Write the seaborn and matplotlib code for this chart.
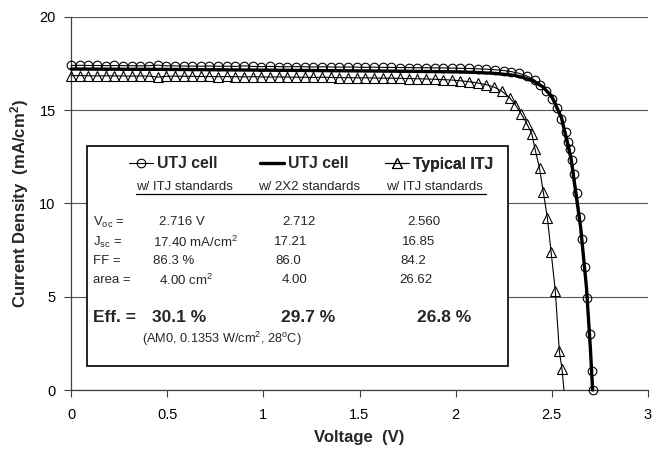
import matplotlib
matplotlib.use("Agg")
import matplotlib.pyplot as plt
import seaborn as sns
from matplotlib.patches import Rectangle
from matplotlib.lines import Line2D

# ---------------- data ----------------
v_utj = [0.000, 0.045, 0.090, 0.135, 0.180, 0.225, 0.270, 0.315, 0.360, 0.405,
         0.450, 0.495, 0.540, 0.585, 0.630, 0.675, 0.720, 0.765, 0.810, 0.855,
         0.900, 0.945, 0.990, 1.035, 1.080, 1.125, 1.170, 1.215, 1.260, 1.305,
         1.350, 1.395, 1.440, 1.485, 1.530, 1.575, 1.620, 1.665, 1.710, 1.755,
         1.800, 1.845, 1.890, 1.935, 1.980, 2.025, 2.070, 2.115, 2.160, 2.205,
         2.250, 2.290, 2.330, 2.370, 2.410, 2.440, 2.470, 2.500, 2.525, 2.550,
         2.572, 2.586, 2.595, 2.605, 2.615, 2.629, 2.647, 2.657, 2.672, 2.685,
         2.698, 2.709, 2.716]
j_utj = [17.40, 17.41, 17.40, 17.40, 17.39, 17.40, 17.39, 17.39, 17.38, 17.39,
         17.42, 17.38, 17.38, 17.37, 17.37, 17.36, 17.37, 17.36, 17.36, 17.35,
         17.38, 17.35, 17.34, 17.35, 17.34, 17.33, 17.34, 17.33, 17.32, 17.33,
         17.32, 17.31, 17.32, 17.31, 17.30, 17.31, 17.30, 17.30, 17.29, 17.29,
         17.28, 17.28, 17.27, 17.27, 17.26, 17.25, 17.24, 17.22, 17.20, 17.17,
         17.13, 17.07, 16.98, 16.84, 16.62, 16.38, 16.04, 15.60, 15.12, 14.52,
         13.85, 13.30, 12.90, 12.33, 11.60, 10.55, 9.30, 8.10, 6.60, 4.95,
         3.00, 1.00, 0.00]

v_2x2 = [0.00, 0.25, 0.50, 0.75, 1.00, 1.25, 1.50, 1.75, 2.00, 2.10,
         2.20, 2.30, 2.35, 2.40, 2.45, 2.50, 2.55, 2.60, 2.65, 2.68,
         2.70, 2.712]
j_2x2 = [17.21, 17.20, 17.19, 17.17, 17.15, 17.13, 17.11, 17.09, 17.06, 17.03,
         16.98, 16.88, 16.76, 16.58, 16.28, 15.75, 14.60, 12.40, 8.70, 5.50,
         2.30, 0.00]

v_itj = [0.000, 0.045, 0.090, 0.135, 0.180, 0.225, 0.270, 0.315, 0.360, 0.405,
         0.450, 0.495, 0.540, 0.585, 0.630, 0.675, 0.720, 0.765, 0.810, 0.855,
         0.900, 0.945, 0.990, 1.035, 1.080, 1.125, 1.170, 1.215, 1.260, 1.305,
         1.350, 1.395, 1.440, 1.485, 1.530, 1.575, 1.620, 1.665, 1.710, 1.755,
         1.800, 1.845, 1.890, 1.935, 1.980, 2.025, 2.070, 2.115, 2.160, 2.200,
         2.240, 2.280, 2.310, 2.340, 2.370, 2.396, 2.413, 2.436, 2.456, 2.477,
         2.496, 2.518, 2.539, 2.553, 2.563]
j_itj = [16.85, 16.86, 16.85, 16.84, 16.85, 16.84, 16.84, 16.83, 16.84, 16.83,
         16.78, 16.82, 16.83, 16.82, 16.82, 16.81, 16.81, 16.80, 16.81, 16.80,
         16.79, 16.80, 16.79, 16.78, 16.79, 16.78, 16.77, 16.77, 16.76, 16.77,
         16.76, 16.75, 16.75, 16.74, 16.74, 16.73, 16.72, 16.72, 16.71, 16.70,
         16.69, 16.68, 16.66, 16.64, 16.62, 16.58, 16.53, 16.46, 16.37, 16.24,
         16.02, 15.68, 15.30, 14.82, 14.28, 13.73, 12.90, 11.89, 10.60, 9.21,
         7.42, 5.31, 2.09, 1.11, 0.00]

x_ticks = [0, 0.5, 1, 1.5, 2, 2.5, 3]
x_tick_labels = ["0", "0.5", "1", "1.5", "2", "2.5", "3"]
y_ticks = [0, 5, 10, 15, 20]
y_tick_labels = ["0", "5", "10", "15", "20"]

# ---------------- style ----------------
sns.set_theme(style="white")
plt.rcParams["font.family"] = ["Liberation Sans", "DejaVu Sans"]
plt.rcParams["mathtext.fontset"] = "custom"
plt.rcParams["mathtext.rm"] = "Liberation Sans"
plt.rcParams["mathtext.it"] = "Liberation Sans:italic"
plt.rcParams["mathtext.bf"] = "Liberation Sans:bold"

W, H = 663, 450
fig = plt.figure(figsize=(W / 100, H / 100), dpi=100)
ax = fig.add_axes([71 / W, 1 - 390 / H, (648 - 71) / W, (390 - 17) / H])


def P(px, py):
    return px / W, 1 - py / H


sns.lineplot(x=v_utj, y=j_utj, ax=ax, sort=False, estimator=None, color="black",
             linewidth=0.8, marker="o", markersize=6.2, markerfacecolor="none",
             markeredgecolor="black", markeredgewidth=0.8, clip_on=False, zorder=3)
sns.lineplot(x=v_2x2, y=j_2x2, ax=ax, sort=False, estimator=None, color="black",
             linewidth=2.4, clip_on=False, zorder=4)
sns.lineplot(x=v_itj, y=j_itj, ax=ax, sort=False, estimator=None, color="black",
             linewidth=0.8, marker="^", markersize=6.8, markerfacecolor="none",
             markeredgecolor="black", markeredgewidth=0.8, markevery=slice(0, -1),
             clip_on=False, zorder=3)
h_utj, h_2x2, h_itj = ax.get_lines()[:3]

ax.set_xlim(0, 3)
ax.set_ylim(0, 20)
ax.set_xticks(x_ticks)
ax.set_xticklabels(x_tick_labels)
ax.set_yticks(y_ticks)
ax.set_yticklabels(y_tick_labels)
ax.tick_params(axis="both", direction="out", length=5, width=0.8, color="#404040",
               labelsize=10.5, labelcolor="black", bottom=True, left=True)
ax.tick_params(axis="x", pad=8)
ax.tick_params(axis="y", pad=6)
ax.yaxis.grid(True, color="#555555", linewidth=0.8)
ax.xaxis.grid(False)
ax.set_axisbelow(True)
for s in ["top", "right"]:
    ax.spines[s].set_visible(False)
for s in ["left", "bottom"]:
    ax.spines[s].set_color("#404040")
    ax.spines[s].set_linewidth(0.9)
ax.set_facecolor("white")

ax.set_xlabel("Voltage  (V)", fontsize=12, fontweight="bold", labelpad=6)
ax.set_ylabel(r"Current Density  (mA/cm$\mathbf{^2}$)", fontsize=12,
              fontweight="bold", labelpad=6)

# ---------------- inset box ----------------
box = Rectangle(P(87, 366), (508 - 87) / W, (366 - 146) / H, transform=fig.transFigure,
                facecolor="white", edgecolor="black", linewidth=1.2, zorder=5,
                clip_on=False)
ax.add_patch(box)

# legend entries (one legend per column)
leg_specs = [(h_utj, "UTJ cell", 129), (h_2x2, "UTJ cell", 260), (h_itj, "Typical ITJ", 385)]
for handle, lab, px in leg_specs:
    lg = ax.legend([handle], [lab], loc="center left", bbox_to_anchor=P(px, 164),
                   bbox_transform=fig.transFigure, frameon=False, handlelength=1.55,
                   handletextpad=0.25, borderpad=0, borderaxespad=0,
                   prop={"weight": "bold", "size": 11.3})
    lg.set_zorder(7)
    ax.add_artist(lg)

tkw = dict(ha="left", va="center", fontsize=9.5, zorder=8)
fig.text(*P(136, 187), "w/ ITJ standards", **tkw)
fig.text(*P(258, 187), "w/ 2X2 standards", **tkw)
fig.text(*P(386, 187), "w/ ITJ standards", **tkw)
fig.add_artist(Line2D([136 / W, 486 / W], [1 - 194 / H, 1 - 194 / H], color="black",
                      linewidth=0.9, transform=fig.transFigure, zorder=8))

rows = [
    (222, r"V$_\mathregular{oc}$ =", "2.716 V", "2.712", "2.560", 159, 282, 407),
    (242, r"J$_\mathregular{sc}$ =", r"17.40 mA/cm$^\mathregular{2}$", "17.21", "16.85", 153, 274, 402),
    (261, "FF =", "86.3 %", "86.0", "84.2", 153, 275, 400),
    (280, "area =", r"4.00 cm$^\mathregular{2}$", "4.00", "26.62", 159, 282, 399),
]
for py, lab, a, b, c, xa, xb, xc in rows:
    fig.text(*P(93, py), lab, **tkw)
    fig.text(*P(xa, py), a, **tkw)
    fig.text(*P(xb, py), b, **tkw)
    fig.text(*P(xc, py), c, **tkw)

bkw = dict(ha="left", va="center", fontsize=12.5, fontweight="bold", zorder=8)
fig.text(*P(93, 318), "Eff. =", **bkw)
fig.text(*P(152, 318), "30.1 %", **bkw)
fig.text(*P(281, 318), "29.7 %", **bkw)
fig.text(*P(417, 318), "26.8 %", **bkw)
fig.text(*P(142, 339), r"(AM0, 0.1353 W/cm$^\mathregular{2}$, 28$^\mathregular{o}$C)",
         ha="left", va="center", fontsize=9.2, zorder=8)

fig.savefig("out.png", dpi=100, facecolor="white")
